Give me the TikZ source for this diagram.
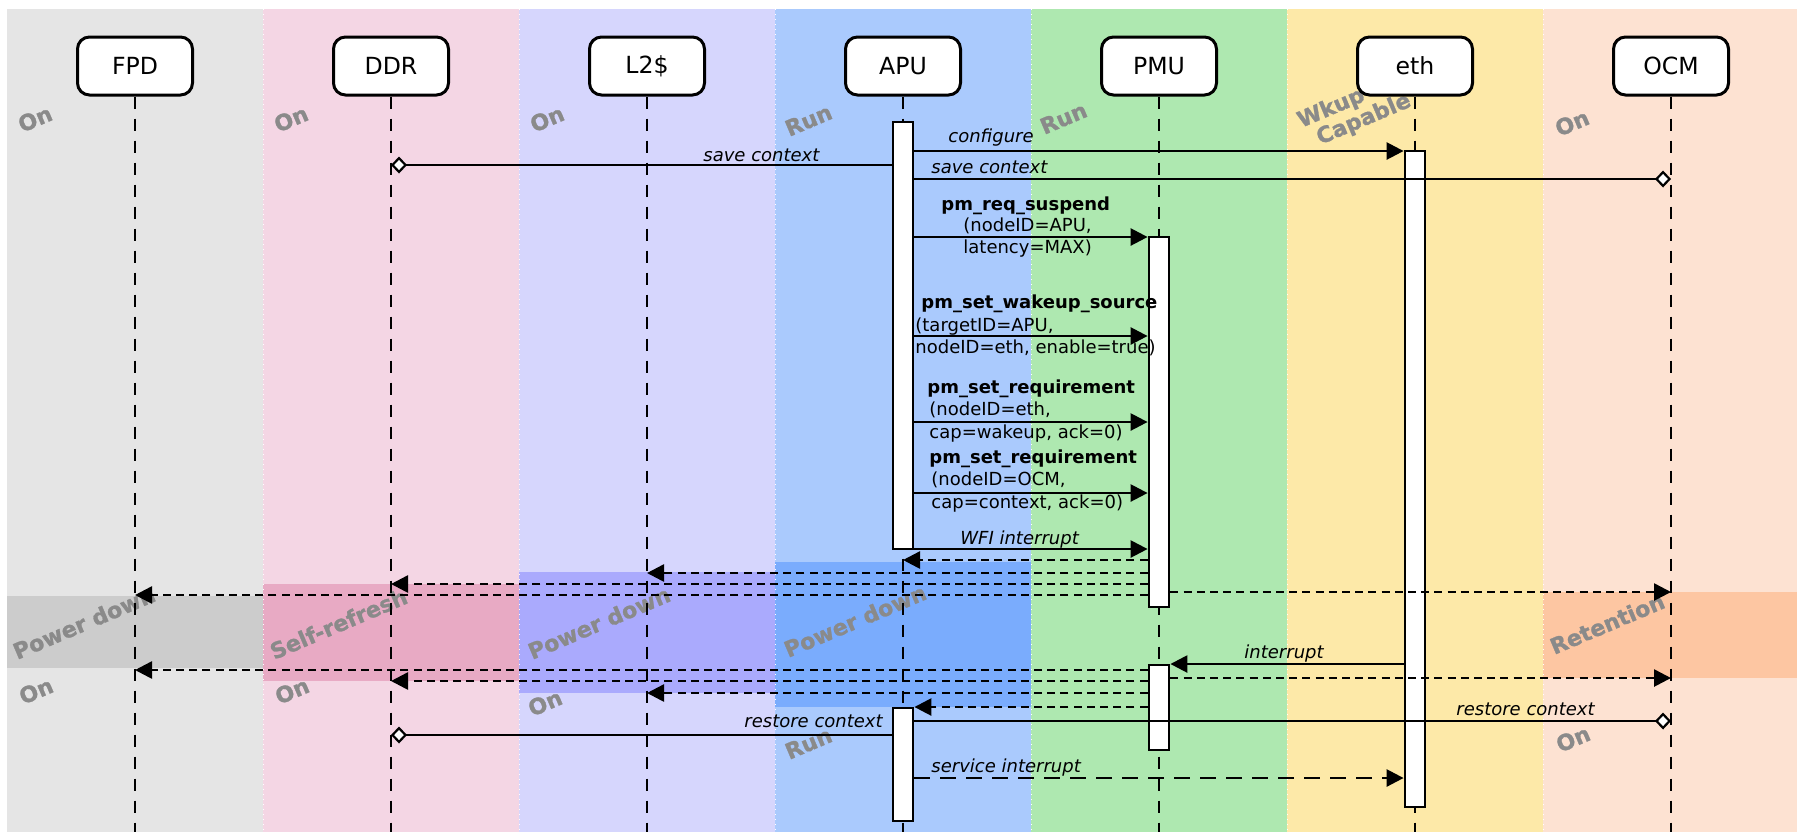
\documentclass[tikz,border=0pt]{standalone}
\usepackage{fontspec}
\setmainfont{DejaVu Sans}
\newfontfamily\stfont[FakeBold=1.2]{DejaVu Sans Bold}
\usetikzlibrary{arrows.meta}
\definecolor{cFPD}{RGB}{229,229,229}
\definecolor{cFPDd}{RGB}{204,204,204}
\definecolor{cDDR}{RGB}{244,214,228}
\definecolor{cDDRd}{RGB}{232,170,196}
\definecolor{cLtwo}{RGB}{214,214,253}
\definecolor{cLtwod}{RGB}{170,170,253}
\definecolor{cAPU}{RGB}{170,202,253}
\definecolor{cAPUd}{RGB}{122,172,253}
\definecolor{cPMU}{RGB}{174,232,176}
\definecolor{cETH}{RGB}{253,233,168}
\definecolor{cOCM}{RGB}{253,226,210}
\definecolor{cOCMd}{RGB}{253,198,162}
\definecolor{stgray}{RGB}{138,138,138}
\begin{document}
\begin{tikzpicture}[x=0.5pt,y=-0.5pt,
  head/.style={draw=black,line width=1.5pt,rounded corners=6pt,fill=white,minimum width=57.5pt,minimum height=29pt,inner sep=0pt,font=\fontsize{11.8}{14}\selectfont},
  life/.style={line width=0.8pt,dash pattern=on 6pt off 5pt},
  act/.style={draw=black,line width=1.4pt,fill=white,minimum width=10pt,inner sep=0pt},
  msg/.style={line width=1.25pt,-{Triangle[length=8.5pt,width=8.5pt]}},
  ctx/.style={line width=1.25pt,-{Diamond[fill=white,length=8pt,width=8.5pt,line width=1.1pt]}},
  ret/.style={line width=1.3pt,dash pattern=on 4pt off 2.6pt,-{Triangle[length=8.5pt,width=8.5pt]}},
  svc/.style={line width=1.3pt,dash pattern=on 8pt off 5pt,-{Triangle[length=8.5pt,width=8.5pt]}},
  lbl/.style={inner sep=0pt,anchor=base west,font=\fontsize{9}{11}\selectfont},
  ilbl/.style={lbl,font=\fontsize{9}{11}\selectfont\itshape},
  blbl/.style={lbl,font=\fontsize{9}{11}\selectfont\bfseries},
  st/.style={inner sep=0pt,anchor=base west,rotate=23,text=stgray,font=\fontsize{11}{12}\selectfont\stfont},
  sep/.style={white,line width=0.5pt,dotted}
]
\useasboundingbox (0,0) rectangle (1797,832);
% bands
\fill[cFPD] (7,9) rectangle (263,832);
\fill[cDDR] (263,9) rectangle (519,832);
\fill[cLtwo] (519,9) rectangle (775,832);
\fill[cAPU] (775,9) rectangle (1031,832);
\fill[cPMU] (1031,9) rectangle (1287,832);
\fill[cETH] (1287,9) rectangle (1543,832);
\fill[cOCM] (1543,9) rectangle (1797,832);
% state regions
\fill[cFPDd] (7,596) rectangle (263,668);
\fill[cDDRd] (263,584) rectangle (519,681);
\fill[cLtwod] (519,572) rectangle (775,693);
\fill[cAPUd] (775,562) rectangle (1031,707);
\fill[cOCMd] (1543,592) rectangle (1797,678);
% separators
\foreach \sx in {263,519,775,1031,1287,1543} \draw[sep] (\sx,9) -- (\sx,832);
% state labels
\node[st] (s1) at (22,133) {On};
\node[st] (s2) at (278,133) {On};
\node[st] (s3) at (534,133) {On};
\node[st] (s4) at (789,137) {Run};
\node[st] (s5) at (1044,135) {Run};
\node[st] (s6) at (1301,128) {Wkup};
\node[st] (s7) at (1320,145) {Capable};
\node[st] (s8) at (1559,137) {On};
\node[st] (s9) at (17,660) {Power down};
\node[st] (s10) at (23,705) {On};
\node[st] (s11) at (274,660) {Self-refresh};
\node[st] (s12) at (279,705) {On};
\node[st] (s13) at (532,660) {Power down};
\node[st] (s14) at (532,717) {On};
\node[st] (s15) at (788,658) {Power down};
\node[st] (s16) at (789,760) {Run};
\node[st] (s17) at (1554,655) {Retention};
\node[st] (s18) at (1560,753) {On};
% heads
\node[head] (FPD) at (135,66) {FPD};
\node[head] (DDR) at (391,66) {DDR};
\node[head] (L2) at (647,66) {L2\$};
\node[head] (APU) at (903,66) {APU};
\node[head] (PMU) at (1159,66) {PMU};
\node[head] (ETH) at (1415,66) {eth};
\node[head] (OCM) at (1671,66) {OCM};
% lifelines
\foreach \h in {FPD,DDR,L2,APU,PMU,ETH,OCM} \draw[life] (\h.south) -- (\h.south |- 0,832);
% activations
\node[act,minimum height=213.5pt] (apu1) at (903,335.5) {};
\node[act,minimum height=185pt] (pmu1) at (1159,422) {};
\node[act,minimum height=328pt] (eth1) at (1415,479) {};
\node[act,minimum height=42.5pt] (pmu2) at (1159,707.5) {};
\node[act,minimum height=56.5pt] (apu2) at (903,764.5) {};
% messages
\draw[msg] (apu1.east |- 0,151) -- (eth1.west |- 0,151);
\draw[ctx] (apu1.west |- 0,165) -- (DDR |- 0,165);
\draw[ctx] (apu1.east |- 0,179) -- (OCM |- 0,179);
\draw[msg] (apu1.east |- 0,237) -- (pmu1.west |- 0,237);
\draw[msg] (apu1.east |- 0,336) -- (pmu1.west |- 0,336);
\draw[msg] (apu1.east |- 0,422) -- (pmu1.west |- 0,422);
\draw[msg] (apu1.east |- 0,493) -- (pmu1.west |- 0,493);
\draw[msg] (apu1.east |- 0,549) -- (pmu1.west |- 0,549);
\draw[ret] (pmu1.west |- 0,560) -- (APU |- 0,560);
\draw[ret] (pmu1.west |- 0,573) -- (L2 |- 0,573);
\draw[ret] (pmu1.west |- 0,584) -- (DDR |- 0,584);
\draw[ret] (pmu1.west |- 0,595) -- (FPD |- 0,595);
\draw[ret] (pmu1.east |- 0,592) -- (OCM |- 0,592);
\draw[msg] (eth1.west |- 0,664) -- (pmu2.east |- 0,664);
\draw[ret] (pmu2.west |- 0,670) -- (FPD |- 0,670);
\draw[ret] (pmu2.east |- 0,678) -- (OCM |- 0,678);
\draw[ret] (pmu2.west |- 0,681) -- (DDR |- 0,681);
\draw[ret] (pmu2.west |- 0,693) -- (L2 |- 0,693);
\draw[ret] (pmu2.west |- 0,707) -- (apu2.east |- 0,707);
\draw[ctx] (apu2.east |- 0,721) -- (OCM |- 0,721);
\draw[ctx] (apu2.west |- 0,735) -- (DDR |- 0,735);
\draw[svc] (apu2.east |- 0,778) -- (eth1.west |- 0,778);
% message labels
\node[ilbl] (t1) at (948,142) {configure};
\node[ilbl] (t2) at (703,161) {save context};
\node[ilbl] (t3) at (931,173) {save context};
\node[blbl] (t4) at (941,210) {pm\_req\_suspend};
\node[lbl] (t5) at (963,231) {(nodeID=APU,};
\node[lbl] (t6) at (963,253) {latency=MAX)};
\node[blbl] (t7) at (921,308) {pm\_set\_wakeup\_source};
\node[lbl] (t8) at (915,331) {(targetID=APU,};
\node[lbl] (t9) at (915,353) {nodeID=eth, enable=true)};
\node[blbl] (t10) at (927,393) {pm\_set\_requirement};
\node[lbl] (t11) at (929,415) {(nodeID=eth,};
\node[lbl] (t12) at (929,438) {cap=wakeup, ack=0)};
\node[blbl] (t13) at (929,463) {pm\_set\_requirement};
\node[lbl] (t14) at (931,485) {(nodeID=OCM,};
\node[lbl] (t15) at (931,508) {cap=context, ack=0)};
\node[ilbl] (t16) at (960,544) {WFI interrupt};
\node[ilbl] (t17) at (1244,658) {interrupt};
\node[ilbl] (t18) at (744,727) {restore context};
\node[ilbl] (t19) at (1456,715) {restore context};
\node[ilbl] (t20) at (931,772) {service interrupt};
\end{tikzpicture}
\end{document}
